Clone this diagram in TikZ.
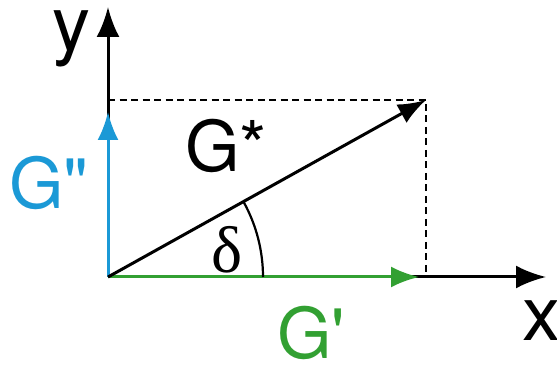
\documentclass[tikz,border=0pt]{standalone}
\usepackage{fontspec}
\setmainfont{TeX Gyre Heros}[Ligatures=TeXOff]
\newfontfamily\greekserif{Liberation Serif}
\usepackage{tikz}
\usetikzlibrary{arrows.meta}
\definecolor{lossblue}{RGB}{27,153,214}
\definecolor{storegreen}{RGB}{50,160,50}

\begin{document}
\begin{tikzpicture}[x=1pt, y=1pt, font=\fontsize{70}{80}\selectfont,
  label/.style={inner sep=0pt, anchor=base west},
  axislabel/.style={label, font=\fontsize{76}{86}\selectfont},
  axis/.style={line width=3pt, -{Latex[length=30pt, width=23pt]}},
  vec/.style={line width=3pt, -{Latex[length=28pt, width=21pt]}},
  guide/.style={line width=2.6pt, dash pattern=on 7pt off 4.5pt}]
  \useasboundingbox (0,0) rectangle (557,366);
  % origin, axis tips and the corner of the box
  \coordinate (O) at (108,89);
  \coordinate (ytip) at (108,359);
  \coordinate (xtip) at (546,89);
  \coordinate (Gs) at (426,266);
  \coordinate (Gpp) at (108,254);
  \coordinate (Gp) at (419,89);
  \coordinate (top) at (108,266);
  \coordinate (foot) at (426,89);
  % axes
  \draw[axis] (O) -- (ytip);
  \draw[axis] (O) -- (xtip);
  \node[axislabel] (ylab) at (52,315) {y};
  \node[axislabel] (xlab) at (522,25) {x};
  % dashed projections
  \draw[guide] (top) -- (Gs) -- (foot);
  % components
  \draw[vec, storegreen] (O) -- (Gp);
  \draw[vec, lossblue] (O) -- (Gpp);
  \draw[vec] (O) -- (Gs);
  \node[label, storegreen] (Gplab) at (277,7) {G'};
  \node[label, lossblue] (Gpplab) at (9,157) {G"};
  \node[label] (Gslab) at (185,194) {G*};
  % phase angle
  \draw[line width=2.2pt] (263,89) arc[start angle=0, end angle=29.2, radius=155];
  \node[label, font=\greekserif\fontsize{66}{70}\selectfont] (dlab) at (211,93) {δ};
\end{tikzpicture}
\end{document}
